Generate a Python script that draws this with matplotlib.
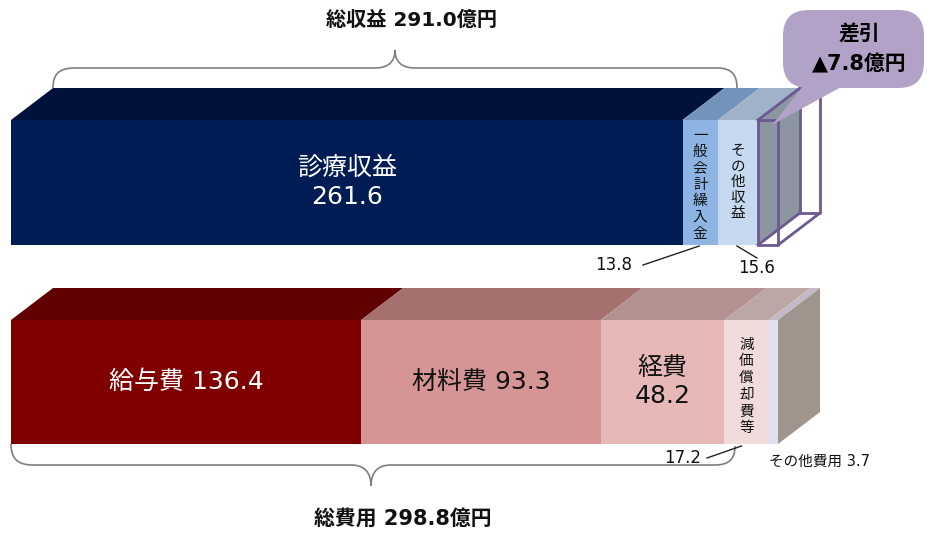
import numpy as np
import matplotlib.pyplot as plt
from matplotlib.patches import Polygon, FancyBboxPatch, PathPatch
from matplotlib.path import Path

# DejaVu for latin/digits (close to Meiryo's Verdana-like digits), CJK falls back
plt.rcParams['font.family'] = ['DejaVu Sans', 'Noto Sans CJK JP']

# revenue side (億円)
rev_names = ["診療収益", "一般会計繰入金", "その他収益"]
rev_values = [261.6, 13.8, 15.6]
gap_value = 7.8          # 差引 (deficit)
rev_total = 291.0

# expense side (億円)
exp_names = ["給与費", "材料費", "経費", "減価償却費等", "その他費用"]
exp_values = [136.4, 93.3, 48.2, 17.2, 3.7]
exp_total = 298.8

rev_front = ["#001c55", "#8db4e2", "#c6d9f1"]
rev_top = ["#00123c", "#7393bb", "#a0b2c7"]
rev_side = "#8b96a1"
exp_front = ["#800000", "#d59594", "#e6b8b7", "#f2dcdb", "#dfe0f0"]
exp_top = ["#600000", "#a4716f", "#b39190", "#bca6a6", "#c2bac6"]
exp_side = "#a0958c"

# layout: x in 億円, y in pixels (top-down)
K = 2.567      # px per 億円
X0 = 11        # px where 0 sits


def X(px):
    return (px - X0) / K


DX = 42 / K    # depth offset to the right
DY = 32        # depth offset upwards (px)

fig = plt.figure(figsize=(9.28, 5.34), dpi=100)
ax = fig.add_axes([0, 0, 1, 1])
ax.set_xlim(X(0), X(928))
ax.set_ylim(534, 0)
ax.axis("off")


def draw_bar(values, fronts, tops, side, y_top, y_bot):
    edges = np.concatenate([[0], np.cumsum(values)])
    for i in range(len(values)):
        x0, x1 = edges[i], edges[i + 1]
        ax.add_patch(Polygon([(x0, y_top), (x1, y_top), (x1, y_bot), (x0, y_bot)],
                             closed=True, fc=fronts[i], ec="none", zorder=2))
        ax.add_patch(Polygon([(x0, y_top), (x1, y_top), (x1 + DX, y_top - DY), (x0 + DX, y_top - DY)],
                             closed=True, fc=tops[i], ec="none", zorder=2))
    xe = edges[-1]
    ax.add_patch(Polygon([(xe, y_top), (xe, y_bot), (xe + DX, y_bot - DY), (xe + DX, y_top - DY)],
                         closed=True, fc=side, ec="none", zorder=2))
    return edges


rev_top_y, rev_bot_y = 120, 245
exp_top_y, exp_bot_y = 320, 444

rev_edges = draw_bar(rev_values, rev_front, rev_top, rev_side, rev_top_y, rev_bot_y)
exp_edges = draw_bar(exp_values, exp_front, exp_top, exp_side, exp_top_y, exp_bot_y)

# 差引 wireframe box
g0 = rev_edges[-1]
g1 = g0 + gap_value
pc = "#6c5990"
front = [(g0, rev_top_y), (g1, rev_top_y), (g1, rev_bot_y), (g0, rev_bot_y), (g0, rev_top_y)]
back = [(x + DX, y - DY) for x, y in front]
ax.plot(*zip(*front), color=pc, lw=2, zorder=4)
ax.plot(*zip(*back), color=pc, lw=2, zorder=4)
for (xa, ya), (xb, yb) in zip(front[:4], back[:4]):
    ax.plot([xa, xb], [ya, yb], color=pc, lw=2, zorder=4)

# labels inside bars
rev_mid = (rev_edges[:-1] + rev_edges[1:]) / 2
exp_mid = (exp_edges[:-1] + exp_edges[1:]) / 2
rev_cy = (rev_top_y + rev_bot_y) / 2
exp_cy = (exp_top_y + exp_bot_y) / 2
dark = "#111111"

ax.text(rev_mid[0], rev_cy, f"{rev_names[0]}\n{rev_values[0]}", color="white",
        fontsize=18, ha="center", va="center", linespacing=1.25, zorder=5)
ax.text(rev_mid[1], rev_cy + 2, "\n".join(rev_names[1]), color=dark,
        fontsize=10.5, ha="center", va="center", linespacing=1.12, zorder=5)
ax.text(rev_mid[2], rev_cy - 1, "\n".join(rev_names[2]), color=dark,
        fontsize=10.5, ha="center", va="center", linespacing=1.06, zorder=5)

ax.text(exp_mid[0], exp_cy, f"{exp_names[0]} {exp_values[0]}", color="white",
        fontsize=18, ha="center", va="center", zorder=5)
ax.text(exp_mid[1], exp_cy, f"{exp_names[1]} {exp_values[1]}", color=dark,
        fontsize=18, ha="center", va="center", zorder=5)
ax.text(exp_mid[2], exp_cy, f"{exp_names[2]}\n{exp_values[2]}", color=dark,
        fontsize=18, ha="center", va="center", linespacing=1.2, zorder=5)
ax.text(exp_mid[3], exp_cy + 4, "\n".join(exp_names[3]), color=dark,
        fontsize=10.5, ha="center", va="center", linespacing=1.14, zorder=5)

# small value labels with leader lines
lc = "#222222"
ax.plot([X(643), rev_mid[1] - 1 / K], [265, 246], color=lc, lw=1, zorder=5)
ax.text(X(614), 265, f"{rev_values[1]}", fontsize=12, ha="center", va="center", color=dark)
ax.plot([rev_mid[2] - 1 / K, rev_mid[2] + 19 / K], [246, 258], color=lc, lw=1, zorder=5)
ax.text(X(757), 268, f"{rev_values[2]}", fontsize=12, ha="center", va="center", color=dark)
ax.plot([X(707), exp_mid[3] - 5 / K], [458, 446], color=lc, lw=1, zorder=5)
ax.text(X(683), 458, f"{exp_values[3]}", fontsize=12, ha="center", va="center", color=dark)
ax.text(X(769), 461, f"{exp_names[4]} {exp_values[4]}", fontsize=10.5, ha="left", va="center",
        color=dark)


# braces
def brace(pts):
    codes = [Path.MOVETO,
             Path.CURVE4, Path.CURVE4, Path.CURVE4,
             Path.LINETO,
             Path.CURVE4, Path.CURVE4, Path.CURVE4,
             Path.CURVE4, Path.CURVE4, Path.CURVE4,
             Path.LINETO,
             Path.CURVE4, Path.CURVE4, Path.CURVE4]
    verts = [(X(px), py) for px, py in pts]
    ax.add_patch(PathPatch(Path(verts, codes), fc="none", ec="#7f7f7f", lw=1.2, zorder=3))


brace([(53, 88), (53, 75), (58, 68), (75, 68), (375, 68),
       (388, 68), (395, 62), (395, 50), (395, 62), (402, 68), (415, 68),
       (717, 68), (732, 68), (737, 75), (737, 88)])
brace([(11, 444), (11, 458), (17, 465), (33, 465), (351, 465),
       (364, 465), (371, 472), (371, 486), (371, 472), (378, 465), (391, 465),
       (715, 465), (730, 465), (735, 458), (735, 446)])

ax.text(X(412), 20, f"総収益 {rev_total}億円", fontsize=14.5, fontweight="bold",
        ha="center", va="center", color=dark)
ax.text(X(403), 519, f"総費用 {exp_total}億円", fontsize=15, fontweight="bold",
        ha="center", va="center", color=dark)

# 差引 callout
cc = "#b3a2c7"
ax.add_patch(FancyBboxPatch((X(783), 10), X(924) - X(783), 78,
                            boxstyle="round,pad=0,rounding_size=10",
                            mutation_aspect=K, fc=cc, ec="none", zorder=6))
ax.add_patch(Polygon([(X(803), 86), (X(843), 86), (X(772), 125)],
                     closed=True, fc=cc, ec="none", zorder=6))
ax.text(X(859), 35, "差引", fontsize=15, fontweight="bold", ha="center", va="center", zorder=7)
ax.text(X(859), 64, f"▲{gap_value}億円", fontsize=15, fontweight="bold",
        ha="center", va="center", zorder=7)

fig.savefig("out.png", dpi=100)
